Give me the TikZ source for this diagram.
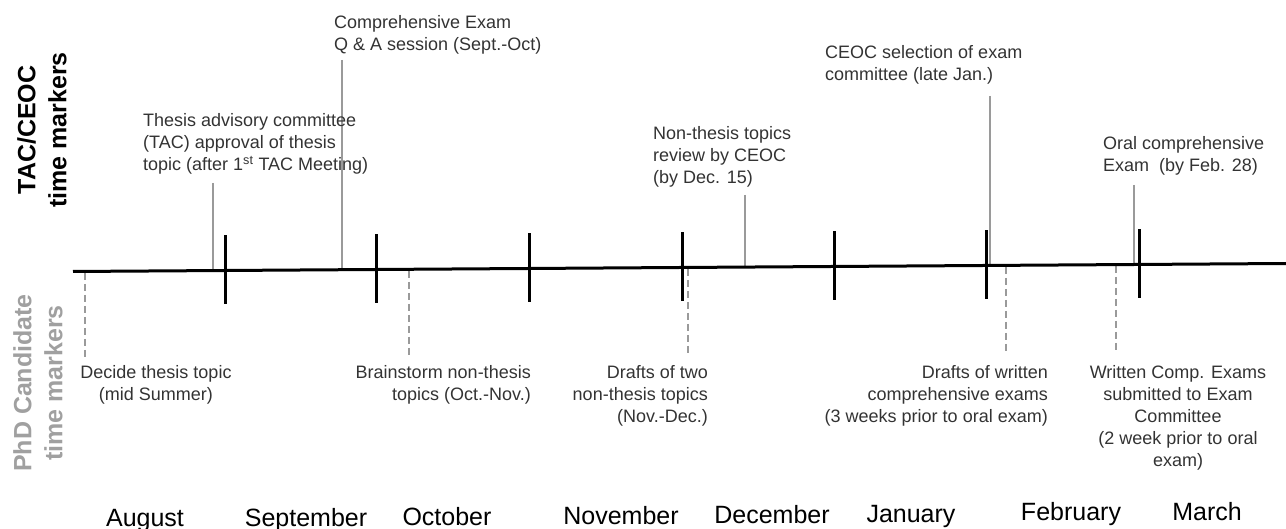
\documentclass[tikz,border=0pt]{standalone}
\usepackage{fontspec}
\setmainfont{Liberation Sans}
\definecolor{txtgray}{HTML}{333333}
\definecolor{markgray}{HTML}{9A9A9A}
\definecolor{sidegray}{HTML}{A0A0A0}
\begin{document}
\begin{tikzpicture}[x=1pt,y=-1pt,
  axisline/.style={line width=3pt,black},
  monthtick/.style={line width=3pt,black},
  tacline/.style={line width=2.8pt,markgray},
  phdline/.style={line width=2.8pt,markgray,dash pattern=on 7pt off 4pt},
  note/.style={font=\fontsize{18}{22}\selectfont,text=txtgray,inner sep=0pt},
  month/.style={font=\fontsize{25}{30}\selectfont,text=black,inner sep=0pt,anchor=base},
  sidelabel/.style={font=\bfseries\fontsize{25}{31}\selectfont,rotate=90,align=center,inner sep=0pt}]
\useasboundingbox (0,0) rectangle (1286,529);

% side labels
\node[sidelabel,text=black] (tac) at (42,130) {TAC/CEOC\\time markers};
\node[sidelabel,text=sidegray] (phd) at (38,383) {PhD Candidate\\time markers};

% axis
\coordinate (a0) at (73,271.5);
\coordinate (a1) at (1286,263.5);

% TAC/CEOC markers (solid gray)
\coordinate (t1a) at (213,183); \coordinate (t1b) at (213,270.6);
\coordinate (t2a) at (342,60);  \coordinate (t2b) at (342,269.7);
\coordinate (t3a) at (745,195); \coordinate (t3b) at (745,267.1);
\coordinate (t4a) at (990,96);  \coordinate (t4b) at (990,265.4);
\coordinate (t5a) at (1134,185);\coordinate (t5b) at (1134,264.5);
\foreach \i in {1,...,5} \draw[tacline] (t\i a) -- (t\i b);

% PhD markers (dashed gray)
\coordinate (p1a) at (85,273);   \coordinate (p1b) at (85,357);
\coordinate (p2a) at (409,271);  \coordinate (p2b) at (409,357);
\coordinate (p3a) at (688,269);  \coordinate (p3b) at (688,355);
\coordinate (p4a) at (1006,267); \coordinate (p4b) at (1006,352);
\coordinate (p5a) at (1116,266); \coordinate (p5b) at (1116,352);
\foreach \i in {1,...,5} \draw[phdline] (p\i a) -- (p\i b);

\draw[axisline] (a0) -- (a1);

% month ticks
\foreach \x/\y [count=\k] in {225/270.5,376/269.5,529/268.5,682/267.5,834/266.5,986/265.5,1139/264.5}{
  \coordinate (m\k a) at (\x,\y-35);
  \coordinate (m\k b) at (\x,\y+34);
  \draw[monthtick] (m\k a) -- (m\k b);
}

% upper notes
\node[note,anchor=north west,align=left] (n1) at (143,113.5) {Thesis advisory committee\\(TAC) approval of thesis\\topic (after 1\textsuperscript{st} TAC Meeting)};
\node[note,anchor=north west,align=left] (n2) at (334,15.5) {Comprehensive Exam\\Q \& A session (Sept.-Oct)};
\node[note,anchor=north west,align=left] (n3) at (653,126.5) {Non-thesis topics\\review by CEOC\\(by Dec. 15)};
\node[note,anchor=north west,align=left] (n4) at (825,45.5) {CEOC selection of exam\\committee (late Jan.)};
\node[note,anchor=north west,align=left] (n5) at (1103,136.5) {Oral comprehensive\\Exam\ \ (by Feb. 28)};

% lower notes
\node[note,anchor=north,align=center] (l1) at (156,365.5) {Decide thesis topic\\(mid Summer)};
\node[note,anchor=north east,align=right] (l2) at (531,365.5) {Brainstorm non-thesis\\topics (Oct.-Nov.)};
\node[note,anchor=north east,align=right] (l3) at (708,365.5) {Drafts of two\\non-thesis topics\\(Nov.-Dec.)};
\node[note,anchor=north east,align=right] (l4) at (1048,365.5) {Drafts of written\\comprehensive exams\\(3 weeks prior to oral exam)};
\node[note,anchor=north,align=center] (l5) at (1178,365.5) {Written Comp. Exams\\submitted to Exam\\Committee\\(2 week prior to oral\\exam)};

% months
\node[month] (aug) at (145,526) {August};
\node[month] (sep) at (306,526) {September};
\node[month] (oct) at (447,525) {October};
\node[month] (nov) at (621,524) {November};
\node[month] (dec) at (772,523) {December};
\node[month] (jan) at (911,522) {January};
\node[month] (feb) at (1071,520) {February};
\node[month] (mar) at (1207,520) {March};
\end{tikzpicture}
\end{document}
